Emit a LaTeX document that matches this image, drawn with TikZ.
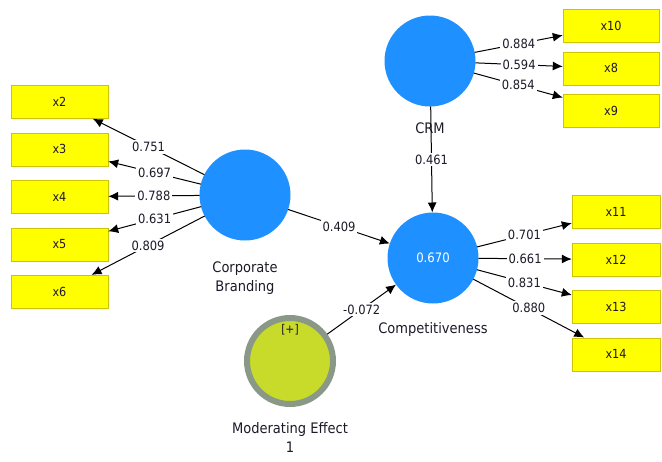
\documentclass[tikz,border=0pt]{standalone}
\usepackage{fontspec}
\setmainfont{DejaVu Sans Condensed}
\usepackage{xcolor}
\usetikzlibrary{positioning,arrows.meta}
\definecolor{lvblue}{RGB}{30,144,255}
\definecolor{indyellow}{RGB}{255,255,0}
\definecolor{indborder}{RGB}{205,195,0}
\definecolor{modfill}{RGB}{200,218,42}
\definecolor{modring}{RGB}{138,152,136}
\definecolor{inkdark}{RGB}{30,25,40}
\tikzstyle{indicator}=[rectangle, draw=indborder, fill=indyellow, minimum width=97pt,
        minimum height=33pt, inner sep=0pt, text centered, text=inkdark,
        font=\fontsize{12.5}{14}\selectfont]
\tikzstyle{latent}=[circle, fill=lvblue, minimum size=91pt, inner sep=0pt, outer sep=0pt,
        text=white, font=\fontsize{13}{15}\selectfont]
\tikzstyle{moderator}=[circle, fill=modfill, draw=modring, line width=6pt, minimum size=86pt]
\tikzstyle{caption}=[inner sep=0pt, align=center, text=inkdark, font=\fontsize{14.5}{19}\selectfont]
\tikzstyle{weight}=[fill=white, inner sep=2pt, text=inkdark, font=\fontsize{12.8}{14}\selectfont]
\tikzstyle{loading}=[draw, line width=1pt, -{Latex[length=10pt,width=9pt]}]

\begin{document}
\begin{tikzpicture}[x=1pt, y=-1pt, node distance=14pt]
      \useasboundingbox (0,0) rectangle (662,461);
      % latent variables
      \node (CB) [latent] at (245,195) {};
      \node (CRM) [latent] at (430,61) {};
      \node (Comp) [latent] at (433,258) {0.670};
      \node (Mod) [moderator] at (290,361) {};
      \node (ModPlus) [text=inkdark, font=\fontsize{12}{14}\selectfont] at (290,330) {[+]};
      % captions
      \node (CBname) [caption, below=21pt of CB] {Corporate\\Branding};
      \node (CRMname) [caption, below=16pt of CRM] {CRM};
      \node (Compname) [caption, below=19pt of Comp] {Competitiveness};
      \node (Modname) [caption, below=15pt of Mod] {Moderating Effect\\1};
      % indicators of Corporate Branding
      \node (x2) [indicator] at (59.5,102) {x2};
      \node (x3) [indicator, below=of x2] {x3};
      \node (x4) [indicator, below=of x3] {x4};
      \node (x5) [indicator, below=of x4] {x5};
      \node (x6) [indicator, below=of x5] {x6};
      % indicators of CRM
      \node (x10) [indicator, minimum width=96pt] at (611,26) {x10};
      \node (x8) [indicator, minimum width=96pt, below=9pt of x10] {x8};
      \node (x9) [indicator, minimum width=96pt, below=9pt of x8] {x9};
      % indicators of Competitiveness
      \node (x11) [indicator, minimum width=88pt] at (616,212) {x11};
      \node (x12) [indicator, minimum width=88pt, below=of x11] {x12};
      \node (x13) [indicator, minimum width=88pt, below=of x12] {x13};
      \node (x14) [indicator, minimum width=88pt, below=of x13] {x14};
      % outer loadings
      \draw [loading] (CB) -- node[weight] {0.751} (x2);
      \draw [loading] (CB) -- node[weight] {0.697} (x3);
      \draw [loading] (CB) -- node[weight] {0.788} (x4);
      \draw [loading] (CB) -- node[weight] {0.631} (x5);
      \draw [loading] (CB) -- node[weight] {0.809} (x6);
      \draw [loading] (CRM) -- node[weight] {0.884} (x10);
      \draw [loading] (CRM) -- node[weight] {0.594} (x8);
      \draw [loading] (CRM) -- node[weight] {0.854} (x9);
      \draw [loading] (Comp) -- node[weight] {0.701} (x11);
      \draw [loading] (Comp) -- node[weight] {0.661} (x12);
      \draw [loading] (Comp) -- node[weight] {0.831} (x13);
      \draw [loading] (Comp) -- node[weight] {0.880} (x14);
      % path coefficients
      \draw [loading] (CRM) -- node[weight] {0.461} (Comp);
      \draw [loading] (CB) -- node[weight] {0.409} (Comp);
      \draw [loading] (Mod) -- node[weight] {-0.072} (Comp);
    \end{tikzpicture}
\end{document}
